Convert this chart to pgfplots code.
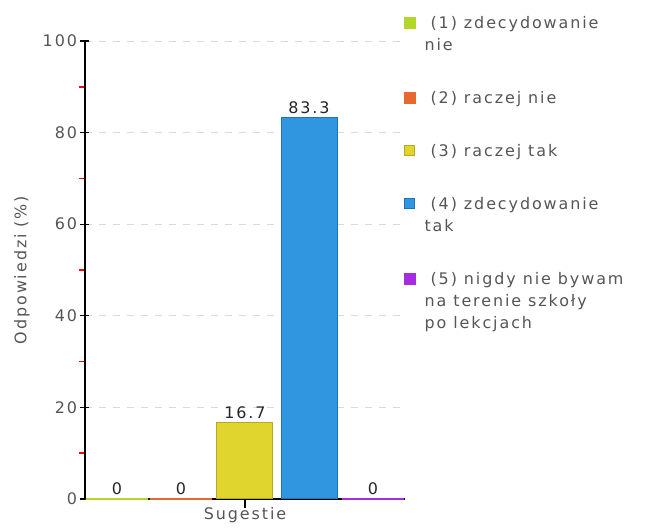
\documentclass[border=0pt]{standalone}
\usepackage{fontspec}
\setmainfont{DejaVu Sans}[LetterSpace=12]
\usepackage{pgfplots}
\pgfplotsset{compat=1.18}

\definecolor{cgreen}{HTML}{B4D62A}
\definecolor{corange}{HTML}{E8692F}
\definecolor{cyellow}{HTML}{E0D52E}
\definecolor{cyellowd}{HTML}{B5AA22}
\definecolor{cblue}{HTML}{3196E0}
\definecolor{cblued}{HTML}{1E73BE}
\definecolor{cpurple}{HTML}{A52CE0}
\definecolor{textgray}{HTML}{555555}

\begin{document}
\begin{tikzpicture}
\useasboundingbox (-85bp,-30bp) rectangle (561bp,499bp);
\begin{axis}[
    at={(0,0)}, anchor=south west,
    scale only axis, width=320bp, height=458bp,
    ybar, clip=false,
    xmin=-0.5, xmax=4.5,
    ymin=0, ymax=100,
    axis lines*=left,
    axis line style={black, line width=1.3bp},
    xtick={2}, xticklabels={Sugestie},
    ytick={0,20,...,100},
    minor ytick={10,30,...,90},
    ymajorgrids=true,
    grid style={color=black!15, dash pattern=on 7bp off 7bp, line width=0.8bp},
    tick align=center,
    major tick length=9bp, minor tick length=6bp,
    major tick style={black, line width=1.2bp},
    minor tick style={red, line width=1.5bp, xshift=-3bp},
    xtick style={yshift=-4.5bp},
    tick label style={color=textgray, font=\fontsize{16}{16}\selectfont},
    /pgf/number format/assume math mode=true,
    ylabel={Odpowiedzi (\%)},
    every axis y label/.style={at={(axis description cs:-0.197,0.5)},
        rotate=90, anchor=center, color=textgray,
        font=\fontsize{16}{16}\selectfont},
    nodes near coords,
    nodes near coords style={color=black!85, font=\fontsize{16}{16}\selectfont},
    legend cell align=left,
    legend style={at={(axis description cs:0.995,1.064)}, anchor=north west,
        draw=none, fill=none, text=textgray,
        font=\fontsize{16}{22}\selectfont,
        row sep=34bp, inner sep=0pt,
        cells={anchor=north west},
        nodes={align=left, inner sep=1bp}},
    legend image code/.code={
        \fill[#1] (0bp,-16bp) rectangle (10bp,-6bp);
        \path (18bp,-10bp);},
]
\addplot[fill=cgreen, draw=cgreen, line width=2bp, bar width=0.97, bar shift=0pt]
    coordinates {(0,0)};
\addplot[fill=corange, draw=corange, line width=2bp, bar width=0.97, bar shift=0pt]
    coordinates {(1,0)};
\addplot[fill=cyellow, draw=cyellowd, line width=1bp, bar width=0.875, bar shift=0pt]
    coordinates {(2,16.7)};
\addplot[fill=cblue, draw=cblued, line width=1bp, bar width=0.875, bar shift=0pt]
    coordinates {(3,83.3)};
\addplot[fill=cpurple, draw=cpurple, line width=2bp, bar width=0.97, bar shift=0pt]
    coordinates {(4,0)};
\legend{{\strut\hspace*{6bp}(1) zdecydowanie\\nie\strut},
    {\strut\hspace*{6bp}(2) raczej nie\strut},
    {\strut\hspace*{6bp}(3) raczej tak\strut},
    {\strut\hspace*{6bp}(4) zdecydowanie\\tak\strut},
    {\strut\hspace*{6bp}(5) nigdy nie bywam\\na terenie szkoły\\po lekcjach\strut}}
\end{axis}
\end{tikzpicture}
\end{document}
